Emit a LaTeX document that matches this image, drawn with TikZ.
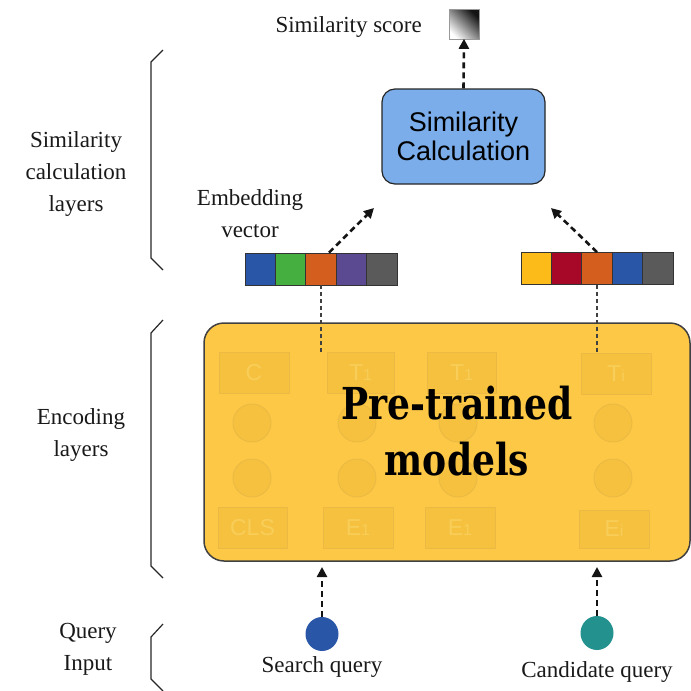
\documentclass[tikz,border=0pt]{standalone}
\usepackage{fontspec}
\setmainfont{Liberation Serif}
\newfontfamily\sansfam{Liberation Sans}
\newfontfamily\heavyserif[FakeStretch=0.82]{DejaVu Serif}
\usetikzlibrary{arrows.meta,shapes.geometric}

\definecolor{ptyellow}{HTML}{FCC845}
\definecolor{ghostfill}{HTML}{F5C13F}
\definecolor{ghostedge}{HTML}{ECBA44}
\definecolor{ghosttext}{HTML}{F9CE58}
\definecolor{calcblue}{HTML}{7BADEA}
\definecolor{vblue}{HTML}{2A56A8}
\definecolor{vgreen}{HTML}{45B03F}
\definecolor{vorange}{HTML}{D35E1E}
\definecolor{vpurple}{HTML}{5B4A91}
\definecolor{vgray}{HTML}{5A5A5A}
\definecolor{vyellow}{HTML}{FDBB1A}
\definecolor{vcrimson}{HTML}{A80828}
\definecolor{qblue}{HTML}{2A56A8}
\definecolor{qteal}{HTML}{23918E}

\begin{document}
\begin{tikzpicture}[x=1pt,y=-1pt,
  lbl/.style={font=\fontsize{23}{32}\selectfont, align=center, text=black!90, inner sep=0},
  flow/.style={-{Triangle[length=10pt,width=10pt]}, dash pattern=on 6pt off 4pt, line width=2.6pt, black!92},
  thinflow/.style={dash pattern=on 4pt off 3pt, line width=1.1pt, black!75},
  cell/.style={draw=black!80, line width=0.8pt, minimum width=30.4pt, minimum height=32pt, inner sep=0},
  ghostbox/.style={draw=ghostedge, fill=ghostfill, line width=0.9pt, minimum height=41pt, inner sep=0,
    font=\sansfam\fontsize{23}{23}\selectfont, text=ghosttext},
  ghostdot/.style={circle, draw=ghostedge, fill=ghostfill, line width=0.9pt, minimum size=38pt, inner sep=0},
  querydot/.style={ellipse, minimum width=33pt, minimum height=34pt, inner sep=0},
  brace/.style={line width=1.2pt, black!85},
]
\useasboundingbox (0,0) rectangle (691,691);

% left-hand brackets and layer names
\draw[brace] (163,50) -- (151,62) -- (151,258) -- (163,270);
\draw[brace] (163,320) -- (151,333) -- (151,566) -- (163,578);
\draw[brace] (163,624) -- (151,637) -- (151,679) -- (163,691);
\node[lbl] (simlayers) at (76,174) {Similarity\\calculation\\layers};
\node[lbl] (enclayers) at (81,435) {Encoding\\layers};
\node[lbl] (qinput) at (88,649) {Query\\Input};

% similarity calculation and score
\node[draw=black!85, line width=1.2pt, fill=calcblue, rounded corners=13pt,
      minimum width=163pt, minimum height=95pt, align=center,
      font=\sansfam\fontsize{27}{29}\selectfont] (calc) at (463.5,136.5) {Similarity\\Calculation};
\node[draw=black!40, line width=0.6pt, minimum size=30pt, inner sep=0,
      left color=black!92, right color=white, shading angle=-45] (score) at (464,24.5) {};
\node[lbl, anchor=east] (scorelbl) at (422,27) {Similarity score};
\draw[flow] (calc.north) -- ([yshift=1pt]score.south);

% embedding vectors
\node[lbl] (emblbl) at (250,214) {Embedding\\vector};
\node[cell, fill=vblue]   (l1) at (260.2,269) {};
\node[cell, fill=vgreen]  (l2) at (290.6,269) {};
\node[cell, fill=vorange] (l3) at (321.0,269) {};
\node[cell, fill=vpurple] (l4) at (351.4,269) {};
\node[cell, fill=vgray]   (l5) at (381.8,269) {};
\node[cell, fill=vyellow]  (r1) at (536.2,268.5) {};
\node[cell, fill=vcrimson] (r2) at (566.6,268.5) {};
\node[cell, fill=vorange]  (r3) at (597.0,268.5) {};
\node[cell, fill=vblue]    (r4) at (627.4,268.5) {};
\node[cell, fill=vgray]    (r5) at (657.8,268.5) {};
\coordinate (lin) at (374,208);
\coordinate (rin) at (551,208);
\draw[flow] ([xshift=8pt]l3.north) -- (lin);
\draw[flow] (r3.north) -- (rin);

% pre-trained encoder block
\node[draw=black!75, line width=1.5pt, fill=ptyellow, rounded corners=20pt,
      minimum width=486pt, minimum height=238pt] (ptm) at (447,442) {};
\coordinate (ltap) at (321,352);
\coordinate (rtap) at (597,352);
\draw[thinflow] (l3.south) -- (ltap);
\draw[thinflow] (r3.south) -- (rtap);

% faded transformer tokens inside the block
\node[ghostbox, minimum width=70pt] (tc)  at (254,372.5) {C};
\node[ghostbox, minimum width=67pt] (tt1) at (360.5,372.5) {T{\fontsize{16}{16}\selectfont 1}};
\node[ghostbox, minimum width=69pt] (tt2) at (461.5,372.5) {T{\fontsize{16}{16}\selectfont 1}};
\node[ghostbox, minimum width=70pt] (tti) at (616,373.5) {T{\fontsize{16}{16}\selectfont i}};
\foreach \x/\n in {252/a,357/b,458/c,613/d}{
  \node[ghostdot] (u\n) at (\x,423) {};
  \node[ghostdot] (v\n) at (\x,478) {};
}
\node[ghostbox, minimum width=69pt] (ecls) at (252.5,528) {CLS};
\node[ghostbox, minimum width=70pt] (ee1)  at (358,528) {E{\fontsize{16}{16}\selectfont 1}};
\node[ghostbox, minimum width=70pt] (ee2)  at (460,528) {E{\fontsize{16}{16}\selectfont 1}};
\node[ghostbox, minimum width=70pt, minimum height=38pt] (eei) at (614,529) {E{\fontsize{16}{16}\selectfont i}};

\node[font=\heavyserif\bfseries\fontsize{44}{56}\selectfont, align=center, inner sep=0] (ptmtext) at (457,431) {Pre-trained\\models};

% query inputs
\node[querydot, fill=qblue] (sq) at (322,634) {};
\node[querydot, fill=qteal] (cq) at (597,633) {};
\coordinate (sqin) at (322,567);
\coordinate (cqin) at (597,567);
\draw[flow] (sq.north) -- (sqin);
\draw[flow] (cq.north) -- (cqin);
\node[lbl] (sqlbl) at (322,667) {Search query};
\node[lbl] (cqlbl) at (597,672) {Candidate query};
\end{tikzpicture}
\end{document}
